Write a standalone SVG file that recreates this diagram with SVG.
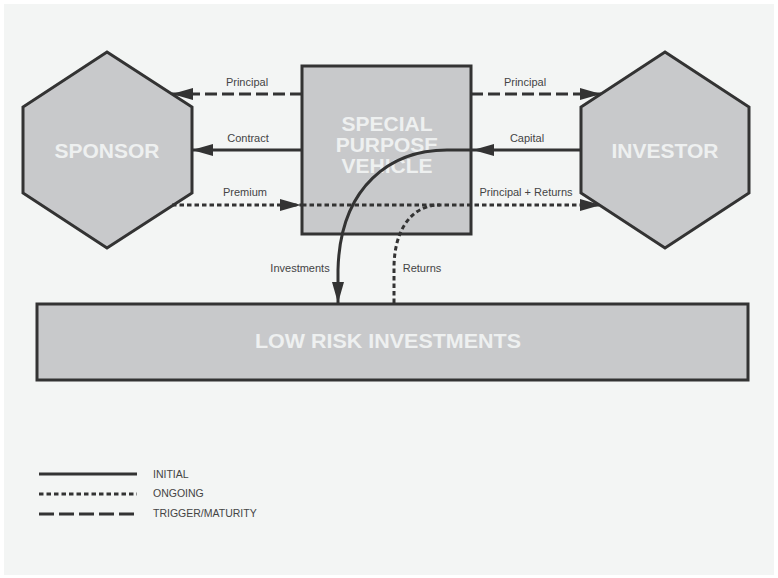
<svg xmlns="http://www.w3.org/2000/svg" width="778" height="578" viewBox="0 0 778 578">
<style>
.node{fill:#c8c9cb;stroke:#333;stroke-width:3}
.ntxt{font-family:"Liberation Sans",Arial,sans-serif;font-weight:bold;font-size:21px;fill:#eef0f0;text-anchor:middle}
.lbl{font-family:"Liberation Sans",Arial,sans-serif;font-size:11px;fill:#444;text-anchor:middle}
.leg{font-family:"Liberation Sans",Arial,sans-serif;font-size:10.5px;fill:#444}
.c{fill:none;stroke:#333;stroke-width:3}
.solid{}
.dot{stroke-dasharray:4.5 3}
.dash{stroke-dasharray:12 5}
.ldash{stroke-dasharray:15 5}
</style>
<defs>
<marker id="ah" markerWidth="21" markerHeight="12" refX="21" refY="6" orient="auto" markerUnits="userSpaceOnUse">
<path d="M0,0 L21,6 L0,12 Z" fill="#333"/>
</marker>
</defs>
<rect x="0" y="0" width="778" height="578" fill="#ffffff"/>
<rect x="4" y="4" width="770" height="571" fill="#f3f5f4"/>

<g id="sponsor">
<polygon class="node" points="107,52 192,107 192,193 107,248 23,193 23,107"/>
<text class="ntxt" x="107" y="158">SPONSOR</text>
</g>
<g id="investor">
<polygon class="node" points="665,52 749,107 749,193 665,248 581,193 581,107"/>
<text class="ntxt" x="665" y="158">INVESTOR</text>
</g>
<g id="spv">
<rect class="node" x="302" y="66" width="169" height="168"/>
<text class="ntxt" x="387" y="131">SPECIAL</text>
<text class="ntxt" x="387" y="152">PURPOSE</text>
<text class="ntxt" x="387" y="173">VEHICLE</text>
</g>
<g id="lowrisk">
<rect class="node" x="37" y="304" width="711" height="76"/>
<text class="ntxt" x="388" y="348" font-size="20" textLength="266" lengthAdjust="spacingAndGlyphs">LOW RISK INVESTMENTS</text>
</g>

<g id="connectors">
<path class="c dash" d="M302,94 H172" marker-end="url(#ah)"/>
<path class="c solid" d="M302,150 H192" marker-end="url(#ah)"/>
<path class="c dot" d="M172,205 H301" marker-end="url(#ah)"/>
<path class="c dash" d="M471,94 H601" marker-end="url(#ah)"/>
<path class="c solid" d="M581,150 H473" marker-end="url(#ah)"/>
<path class="c dot" d="M302,205 H601" marker-end="url(#ah)"/>
<path class="c solid" d="M473,150 H447 C392,150 340,185 338,270 V303" marker-end="url(#ah)"/>
<path class="c dot" d="M394,303 V268 C394,232 410,205 440,205"/>
<text class="lbl" x="247" y="86">Principal</text>
<text class="lbl" x="248" y="142">Contract</text>
<text class="lbl" x="245" y="196">Premium</text>
<text class="lbl" x="525" y="86">Principal</text>
<text class="lbl" x="527" y="142">Capital</text>
<text class="lbl" x="526" y="196">Principal + Returns</text>
<text class="lbl" x="300" y="272">Investments</text>
<text class="lbl" x="422" y="272">Returns</text>
</g>

<g id="legend">
<line class="c" x1="39" y1="474" x2="137" y2="474"/>
<line class="c dot" x1="39" y1="494" x2="137" y2="494"/>
<line class="c ldash" x1="39" y1="514" x2="137" y2="514"/>
<text class="leg" x="153" y="478">INITIAL</text>
<text class="leg" x="153" y="497">ONGOING</text>
<text class="leg" x="153" y="517">TRIGGER/MATURITY</text>
</g>
</svg>
